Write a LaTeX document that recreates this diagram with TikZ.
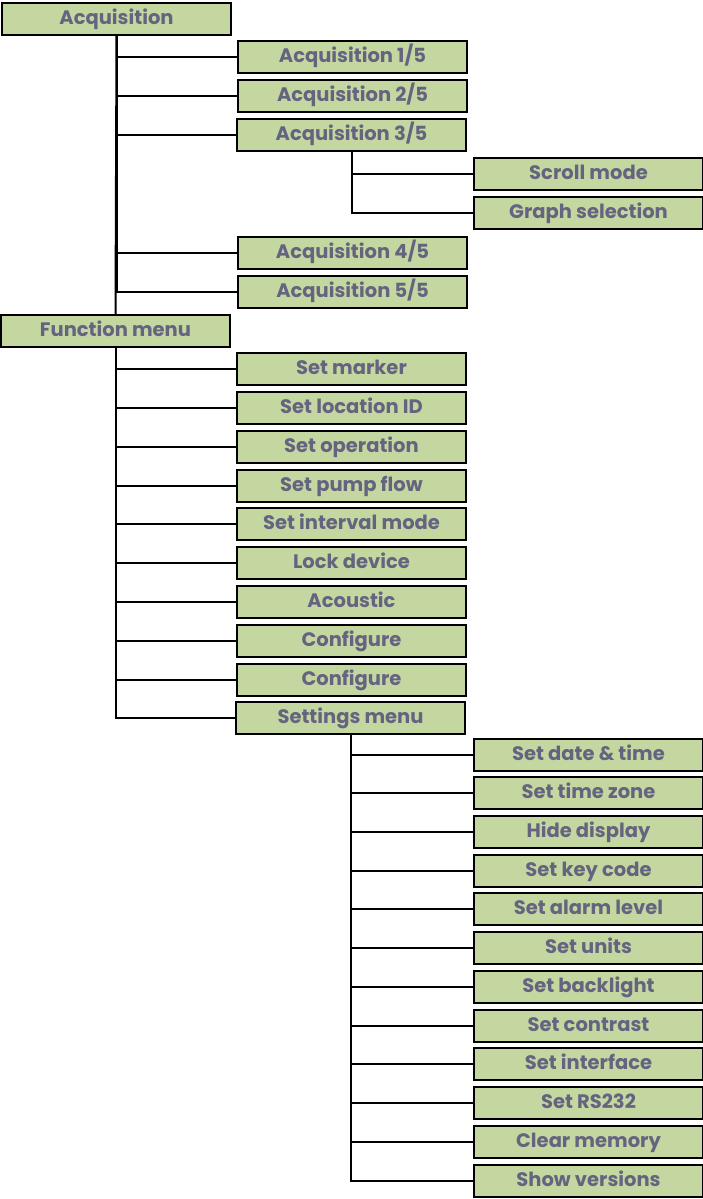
\documentclass[tikz,border=0pt]{standalone}
\usepackage{fontspec}
\setmainfont{Poppins}
\definecolor{menugreen}{RGB}{196,215,160}
\definecolor{menutext}{RGB}{100,100,128}
\usetikzlibrary{positioning}
\tikzset{
  menubox/.style={draw=black, line width=1.5pt, fill=menugreen, minimum width=229pt, minimum height=32pt, inner sep=0pt, text height=14pt, text depth=3pt, font=\fontsize{19.5}{22}\selectfont\bfseries, text=menutext},
  branch/.style={line width=2pt, black}
}
\begin{document}
\begin{tikzpicture}[x=1pt,y=-1pt]
  \useasboundingbox (0,0) rectangle (703,1199);
  % Acquisition section
  \node[menubox] (acq) at (116.5,19) {Acquisition};
  \node[menubox] (acq1) at (352.5,57) {Acquisition 1/5};
  \node[menubox] (acq2) at (352.5,96) {Acquisition 2/5};
  \node[menubox] (acq3) at (351.5,135) {Acquisition 3/5};
  \node[menubox] (scroll) at (588.5,174) {Scroll mode};
  \node[menubox] (graph) at (588.5,213) {Graph selection};
  \node[menubox] (acq4) at (352.5,253) {Acquisition 4/5};
  \node[menubox] (acq5) at (352.5,292) {Acquisition 5/5};

  % Function menu section
  \node[menubox] (fmenu) at (115.5,331) {Function menu};
  \node[menubox] (marker) at (351.5,369) {Set marker};
  \node[menubox] (locid) at (351.5,408) {Set location ID};
  \node[menubox] (oper) at (351.5,447) {Set operation};
  \node[menubox] (pump) at (351.5,486) {Set pump flow};
  \node[menubox] (interval) at (351.5,524) {Set interval mode};
  \node[menubox] (lock) at (351.5,563) {Lock device};
  \node[menubox] (acoustic) at (351.5,602) {Acoustic};
  \node[menubox] (conf1) at (351.5,641) {Configure};
  \node[menubox] (conf2) at (351.5,680) {Configure};
  \node[menubox] (settings) at (350.5,718) {Settings menu};

  % Settings menu section
  \node[menubox] (datetime) at (588.5,755) {Set date \& time};
  \node[menubox] (tzone) at (588.5,793) {Set time zone};
  \node[menubox] (hide) at (588.5,832) {Hide display};
  \node[menubox] (keycode) at (588.5,871) {Set key code};
  \node[menubox] (alarm) at (588.5,909) {Set alarm level};
  \node[menubox] (units) at (588.5,948) {Set units};
  \node[menubox] (backlight) at (588.5,987) {Set backlight};
  \node[menubox] (contrast) at (588.5,1026) {Set contrast};
  \node[menubox] (iface) at (588.5,1064) {Set interface};
  \node[menubox] (rs) at (588.5,1103) {Set RS232};
  \node[menubox] (clear) at (588.5,1142) {Clear memory};
  \node[menubox] (versions) at (588.5,1181) {Show versions};

  % Connectors
  \draw[branch] (acq.south) -- (fmenu.north);
  \foreach \c in {acq1,acq2,acq3,acq4,acq5}
    \draw[branch] (acq.south) |- (\c.west);
  \foreach \c in {scroll,graph}
    \draw[branch] (acq3.south) |- (\c.west);
  \foreach \c in {marker,locid,oper,pump,interval,lock,acoustic,conf1,conf2,settings}
    \draw[branch] (fmenu.south) |- (\c.west);
  \foreach \c in {datetime,tzone,hide,keycode,alarm,units,backlight,contrast,iface,rs,clear,versions}
    \draw[branch] (settings.south) |- (\c.west);
\end{tikzpicture}
\end{document}
